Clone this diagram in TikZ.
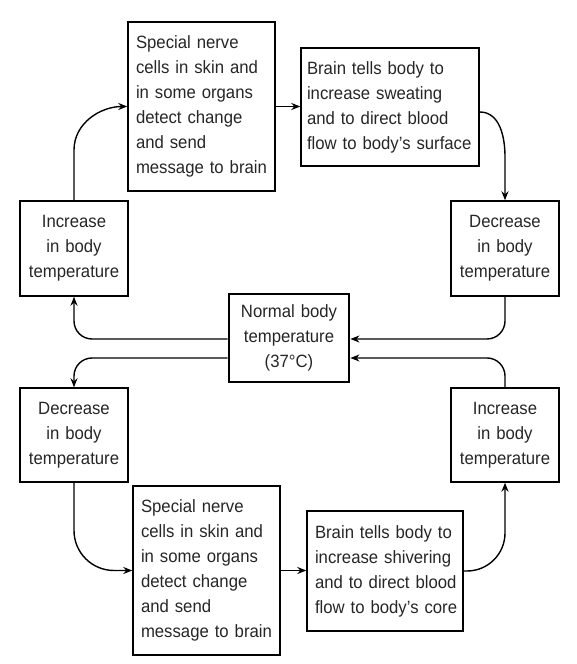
\documentclass[tikz,border=0pt]{standalone}
\usepackage{fontspec}
\setmainfont{Liberation Sans}[FakeStretch=0.94]
\usetikzlibrary{arrows.meta}
\begin{document}
\begin{tikzpicture}[x=1pt,y=1pt,
  box/.style={draw=black, line width=1.4pt, rectangle, inner xsep=8pt, inner ysep=0pt,
    font=\fontsize{17.8}{25}\selectfont, text=black!85, anchor=center},
  arr/.style={line width=1.4pt, -{Stealth[length=9pt,width=7pt]}},
]
\useasboundingbox (0,0) rectangle (577,664);
\node[box, minimum width=147pt, minimum height=169pt, text width=131pt, align=left] (nerve1) at (201.5,557.5)
  {Special nerve\\cells in skin and\\in some organs\\detect change\\and send\\message to brain};
\node[box, inner xsep=6pt, minimum width=178pt, minimum height=118pt, text width=166pt, align=left] (brain1) at (390,557)
  {Brain tells body to\\increase sweating\\and to direct blood\\flow to body’s surface};
\node[box, minimum width=108pt, minimum height=95pt, text width=92pt, align=center] (inc1) at (74,415.5)
  {Increase\\in body\\temperature};
\node[box, minimum width=108pt, minimum height=95pt, text width=92pt, align=center] (dec1) at (505,415.5)
  {Decrease\\in body\\temperature};
\node[box, line width=2.8pt, minimum width=120pt, minimum height=88pt, text width=104pt, align=center] (normal) at (289,326)
  {Normal body\\temperature\\(37°C)};
\node[box, minimum width=108pt, minimum height=94pt, text width=92pt, align=center] (dec2) at (74,229)
  {Decrease\\in body\\temperature};
\node[box, minimum width=147pt, minimum height=169pt, text width=131pt, align=left] (nerve2) at (206.5,93.5)
  {Special nerve\\cells in skin and\\in some organs\\detect change\\and send\\message to brain};
\node[box, minimum width=156pt, minimum height=120pt, text width=140pt, align=left] (brain2) at (385,93)
  {\makebox[140pt][s]{Brain tells body to}\\\makebox[140pt][s]{increase shivering}\\\makebox[140pt][s]{and to direct blood}\\\makebox[140pt][s]{flow to body’s core}};
\node[box, minimum width=108pt, minimum height=94pt, text width=92pt, align=center] (inc2) at (505,229)
  {Increase\\in body\\temperature};

\draw[arr] (inc1.north) -- (74,514) to[out=90,in=180] (nerve1.west);
\draw[arr] (nerve1.east) -- (brain1.west |- nerve1.east);
\draw[arr] ([yshift=-5pt]brain1.east) to[out=0,in=90] (505,507) -- (dec1.north);
\draw[arr, rounded corners=18pt] (dec1.south) |- ([yshift=-1pt]normal.east);
\draw[arr, rounded corners=18pt] ([yshift=-1pt]normal.west) -| (inc1.south);
\draw[arr, rounded corners=18pt] ([yshift=-20pt]normal.west) -| (dec2.north);
\draw[arr, rounded corners=40pt] (dec2.south) |- (nerve2.west);
\draw[arr] (nerve2.east) -- (brain2.west |- nerve2.east);
\draw[arr, rounded corners=38pt] (brain2.east) -| (inc2.south);
\draw[arr, rounded corners=18pt] (inc2.north) |- ([yshift=-20pt]normal.east);
\end{tikzpicture}
\end{document}
